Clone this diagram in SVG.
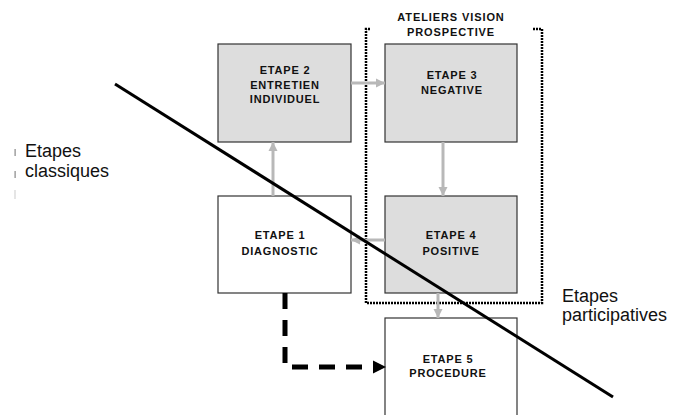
<svg xmlns="http://www.w3.org/2000/svg" width="681" height="415" viewBox="0 0 681 415">
<style>
.box{stroke:#333;stroke-width:1.2}
.g{fill:#dddddd}
.w{fill:#ffffff}
.t{font-family:"Liberation Sans",Arial,sans-serif;font-weight:bold;font-size:11px;letter-spacing:0.8px;fill:#111;text-anchor:middle}
.lbl{font-family:"Liberation Sans",Arial,sans-serif;font-size:18px;fill:#111}
.ga{stroke:#b8b8b8;stroke-width:3;fill:none;marker-end:url(#gh)}
</style>
<defs>
<marker id="gh" viewBox="0 0 10 10" refX="10" refY="5" markerWidth="3" markerHeight="3.3" orient="auto" markerUnits="strokeWidth">
<path d="M0,0 L10,5 L0,10 Z" fill="#b8b8b8"/>
</marker>
</defs>
<rect width="681" height="415" fill="#fff"/>
<g id="group-ateliers">
<path d="M370,29 H366 V303 H542 V29 H533" fill="none" stroke="#000" stroke-width="2.5" stroke-dasharray="2 1"/>
<text class="t" x="451" y="21" style="letter-spacing:0.9px">ATELIERS VISION</text>
<text class="t" x="451" y="36" style="letter-spacing:0.9px">PROSPECTIVE</text>
</g>
<g id="node-etape2">
<rect class="box g" x="218" y="44" width="133" height="98"/>
<text class="t" x="285" y="74">ETAPE 2</text>
<text class="t" x="285" y="89">ENTRETIEN</text>
<text class="t" x="285" y="103">INDIVIDUEL</text>
</g>
<g id="node-etape3">
<rect class="box g" x="385" y="44" width="132" height="98"/>
<text class="t" x="452" y="79">ETAPE 3</text>
<text class="t" x="452" y="94">NEGATIVE</text>
</g>
<g id="node-etape1">
<rect class="box w" x="218" y="196" width="133" height="97"/>
<text class="t" x="280" y="239">ETAPE 1</text>
<text class="t" x="280" y="255">DIAGNOSTIC</text>
</g>
<g id="node-etape4">
<rect class="box g" x="385" y="196" width="132" height="97"/>
<text class="t" x="451" y="239">ETAPE 4</text>
<text class="t" x="451" y="255">POSITIVE</text>
</g>
<g id="node-etape5">
<rect class="box w" x="385" y="318" width="132" height="110"/>
<text class="t" x="448" y="363">ETAPE 5</text>
<text class="t" x="448" y="377">PROCEDURE</text>
</g>
<g id="connectors">
<line class="ga" x1="351" y1="83" x2="385" y2="83"/>
<line class="ga" x1="443" y1="142" x2="443" y2="196"/>
<line class="ga" x1="273" y1="196" x2="273" y2="142"/>
<line class="ga" x1="385" y1="240" x2="351" y2="240"/>
<line class="ga" x1="438" y1="293" x2="438" y2="318"/>
<path d="M285,293 V367 H373" fill="none" stroke="#000" stroke-width="5" stroke-dasharray="16 11"/>
<path d="M373,360.5 L386,367 L373,373.5 Z" fill="#000"/>
</g>
<g id="labels">
<rect x="14.5" y="149" width="1.2" height="7" fill="#888"/>
<rect x="14.5" y="171" width="1.2" height="7" fill="#888"/>
<rect x="14.5" y="190" width="1" height="9" fill="#ccc"/>
<text class="lbl" x="25" y="157">Etapes</text>
<text class="lbl" x="25" y="177">classiques</text>
<text class="lbl" x="562" y="302">Etapes</text>
<text class="lbl" x="562" y="321">participatives</text>
</g>
<line x1="115" y1="84" x2="613" y2="397" stroke="#000" stroke-width="3"/>
</svg>
